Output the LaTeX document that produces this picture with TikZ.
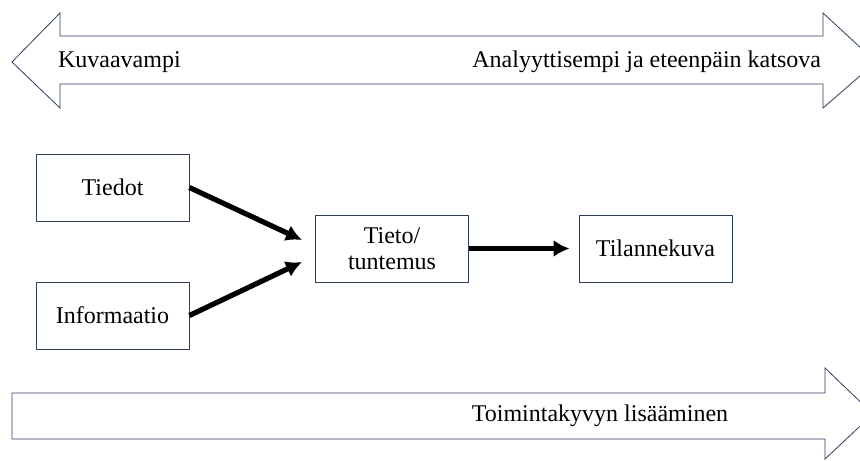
\documentclass[tikz,border=0pt]{standalone}
\usepackage{fontspec}
\setmainfont{Liberation Serif}
\usepackage{xcolor}
\usepackage{tikz}
\usetikzlibrary{arrows.meta,positioning}

\definecolor{edgeblue}{RGB}{45,62,95}

\tikzset{
  infobox/.style={draw=edgeblue,thin,minimum width=76.5pt,minimum height=33.5pt,align=center,inner sep=1pt},
  bigarrow/.style={draw=edgeblue,thin,fill=white},
  flow/.style={line width=2.6pt,-{Latex[length=8pt,width=8.5pt]}}
}

\begin{document}
\begin{tikzpicture}[x=0.5pt,y=-0.5pt,font=\fontsize{12}{13}\selectfont]
\useasboundingbox (0,0) rectangle (860,460);
\clip (0,0) rectangle (860,460);

% Top double arrow
\draw[bigarrow] (12,62) -- (60,13) -- (60,36) -- (823,36) -- (823,13)
  -- (876,62) -- (823,108) -- (823,84) -- (60,84) -- (60,108) -- cycle;
\node[anchor=west] (desc) at (51,62) {Kuvaavampi};
\node[anchor=east] (anal) at (828,62) {Analyyttisempi ja eteenpäin katsova};

% Bottom arrow
\draw[bigarrow] (12,393) -- (825,393) -- (825,368) -- (873,414)
  -- (825,459) -- (825,439) -- (12,439) -- cycle;
\node (toim) at (600,416) {Toimintakyvyn lisääminen};

% Boxes
\node[infobox] (tiedot) at (112.5,187.5) {Tiedot};
\node[infobox] (info) at (112.5,315.5) {Informaatio};
\node[infobox] (tieto) at (392,248.5) {Tieto/\\tuntemus};
\node[infobox] (tilanne) at (655.5,248.5) {Tilannekuva};

% Arrows
\coordinate (in1) at (302,240);
\coordinate (in2) at (302,262);
\draw[flow] (tiedot.east) -- (in1);
\draw[flow] (info.east) -- (in2);
\draw[flow,shorten >=4.5pt] (tieto) -- (tilanne);
\end{tikzpicture}
\end{document}
